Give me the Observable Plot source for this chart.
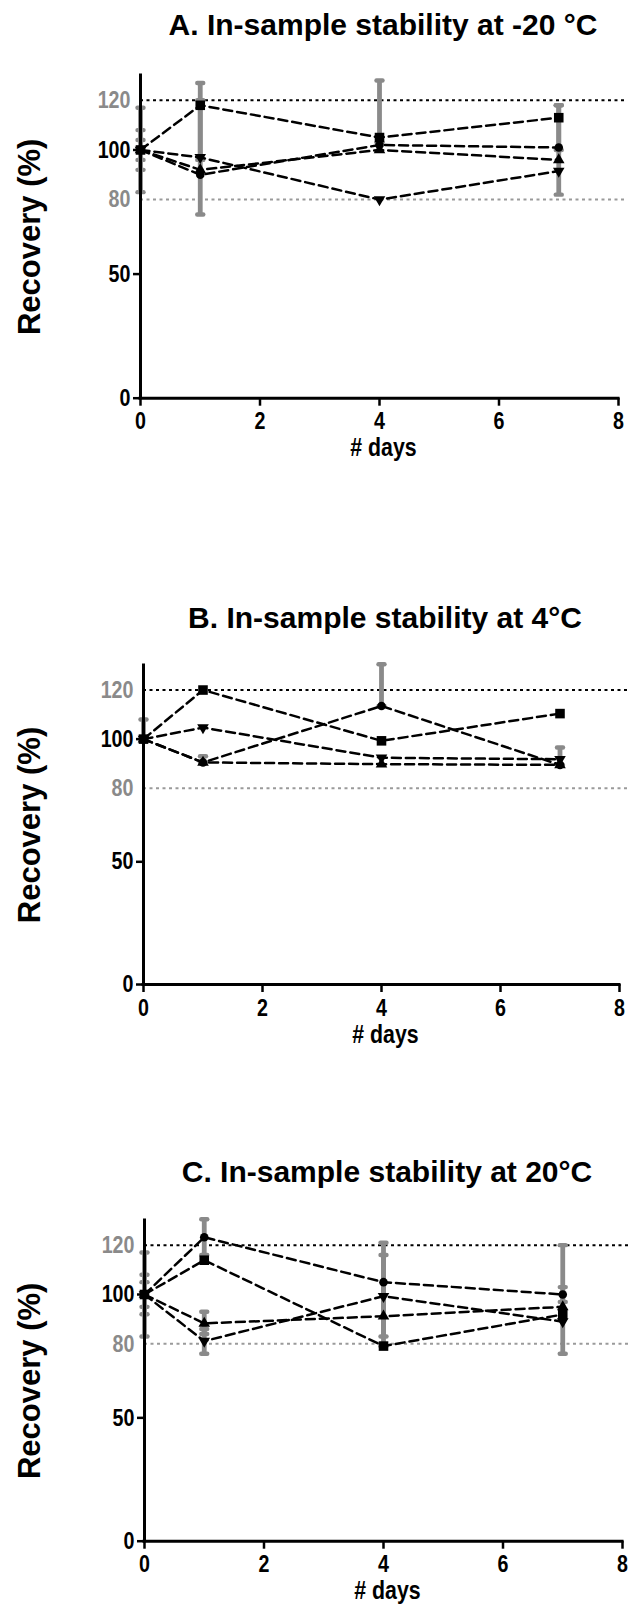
<!DOCTYPE html>
<html>
<head>
<meta charset="utf-8">
<script src="https://cdn.jsdelivr.net/npm/d3@7"></script>
<script src="https://cdn.jsdelivr.net/npm/@observablehq/plot@0.6"></script>
<style>
  body { margin: 0; background: #fff; }
  #root { position: relative; width: 635px; height: 1615px; overflow: hidden; }
  .panel { position: absolute; left: 0; width: 635px; }
  .panel svg { position: absolute; left: 0; top: 0; overflow: visible; }
  .title { position: absolute; text-align: center; white-space: nowrap;
           font-family: "Liberation Sans", Arial, sans-serif; font-weight: bold;
           font-size: 30px; line-height: 30px; color: #000; }
</style>
</head>
<body>
<div id="root"></div>
<script>
// ---------- data ----------
const days = [0, 1, 4, 7];
const xTicks = [0, 2, 4, 6, 8];
const yTicksBlack = [0, 50, 100];
const yTicksGray = [80, 120];
const xDomain = [0, 8];
const yDomain = [0, 130];
const limitUpper = [120];
const limitLower = [80];
const yLabel = "Recovery (%)";
const xLabel = "# days";
const titles = [
  "A. In-sample stability at -20 °C",
  "B. In-sample stability at 4°C",
  "C. In-sample stability at 20°C"
];

// Panel A (-20 °C)
const aCircle       = [100, 90, 102, 101];
const aSquare       = [100, 118, 105, 113];
const aTriangle     = [100, 92, 100, 96];
const aTriangleDown = [100, 97, 80, 91.5];
const aErrDay  = [0, 0, 0, 1, 1, 4, 7, 7];
const aErrLow  = [83, 92, 96, 74, 96, 103, 82, 100];
const aErrHigh = [117, 108, 104, 127, 120, 128, 118, 118];

// Panel B (4 °C)
const bCircle       = [100, 90.5, 113.5, 89.5];
const bSquare       = [100, 120, 99.3, 110.4];
const bTriangle     = [100, 90.5, 89.8, 89.5];
const bTriangleDown = [100, 104.7, 92.4, 91.8];
const bErrDay  = [0, 1, 4, 7];
const bErrLow  = [100, 90.5, 113.5, 89.5];
const bErrHigh = [108, 93, 130.5, 96.6];

// Panel C (20 °C)
const cCircle       = [100, 123.2, 105, 100];
const cSquare       = [100, 113.9, 79.1, 91.9];
const cTriangle     = [100, 88.3, 91.2, 95];
const cTriangleDown = [100, 81.1, 99.3, 89];
const cErrDay  = [0, 0, 0, 1, 1, 1, 4, 4, 7, 7];
const cErrLow  = [83, 92, 95, 116, 84, 76, 79, 83, 76, 97];
const cErrHigh = [117, 108, 105, 130.5, 93, 86, 121, 116, 120, 103];

// ---------- symbols ----------
const sqrt3 = Math.sqrt(3);
const triangleDown = {
  draw(ctx, size) {
    const y = -Math.sqrt(size / (sqrt3 * 3));
    ctx.moveTo(0, -y * 2);
    ctx.lineTo(-sqrt3 * y, y);
    ctx.lineTo(sqrt3 * y, y);
    ctx.closePath();
  }
};
const capSymbol = {
  draw(ctx) {
    ctx.moveTo(-3, -2.2);
    ctx.lineTo(3, -2.2);
    ctx.arc(3, 0, 2.2, -Math.PI / 2, Math.PI / 2);
    ctx.lineTo(-3, 2.2);
    ctx.arc(-3, 0, 2.2, Math.PI / 2, Math.PI * 1.5);
    ctx.closePath();
  }
};
const shapes = [
  {key: "circle", symbol: "circle", r: 4.3},
  {key: "square", symbol: "square", r: 5.4},
  {key: "triangle", symbol: "triangle", r: 4.3},
  {key: "triangleDown", symbol: triangleDown, r: 4.3}
];

const panelsData = [
  {circle: aCircle, square: aSquare, triangle: aTriangle, triangleDown: aTriangleDown,
   errDay: aErrDay, errLow: aErrLow, errHigh: aErrHigh},
  {circle: bCircle, square: bSquare, triangle: bTriangle, triangleDown: bTriangleDown,
   errDay: bErrDay, errLow: bErrLow, errHigh: bErrHigh},
  {circle: cCircle, square: cSquare, triangle: cTriangle, triangleDown: cTriangleDown,
   errDay: cErrDay, errLow: cErrLow, errHigh: cErrHigh}
];

// ---------- layout ----------
const layout = [
  {top: 0,    xRange: [140, 618], y0: 397.7, titleTop: 10},
  {top: 590,  xRange: [143, 619], y0: 984,   titleTop: 13},
  {top: 1145, xRange: [144, 622], y0: 1540.7, titleTop: 12}
];
const H = 470, MT = 75;
const gray = "#8a8a8a";
const NARROW = 0.82; // emulate a narrow bold face

function narrowText(t) {
  const tr = t.getAttribute("transform");
  if (tr) {
    t.setAttribute("transform", tr + ` scale(${NARROW},1)`);
  } else {
    const x = parseFloat(t.getAttribute("x")) || 0;
    t.setAttribute("transform", `translate(${x},0) scale(${NARROW},1)`);
    t.setAttribute("x", 0);
  }
}

const root = document.getElementById("root");

panelsData.forEach((pd, i) => {
  const L = layout[i];
  const rows = [];
  shapes.forEach(s => days.forEach((d, j) => rows.push({day: d, value: pd[s.key][j], shape: s.key})));
  const errs = pd.errDay.map((d, j) => ({day: d, lo: pd.errLow[j], hi: pd.errHigh[j]}));
  const caps = errs.flatMap(e => [{day: e.day, v: e.lo}, {day: e.day, v: e.hi}]);

  const frameRight = Math.min(L.xRange[1] + 8, 634);
  const chart = Plot.plot({
    width: 635,
    height: H,
    marginTop: MT,
    marginBottom: H - (L.y0 - L.top),
    marginLeft: L.xRange[0],
    marginRight: 635 - frameRight,
    x: {domain: xDomain, range: L.xRange},
    y: {domain: yDomain},
    style: {fontFamily: "'Liberation Sans', Arial, sans-serif", fontWeight: "bold",
            fontSize: "22px", color: "#000", background: "transparent", overflow: "visible"},
    marks: [
      Plot.ruleY(limitUpper, {stroke: "#000", strokeWidth: 2, strokeDasharray: "3,3.5"}),
      Plot.ruleY(limitLower, {stroke: "#9a9a9a", strokeWidth: 2, strokeDasharray: "3,3.5"}),
      Plot.ruleX(errs, {x: "day", y1: "lo", y2: "hi", stroke: gray, strokeWidth: 4.8}),
      Plot.dot(caps, {x: "day", y: "v", symbol: capSymbol, fill: gray, stroke: "none"}),
      Plot.line(rows, {x: "day", y: "value", z: "shape", stroke: "#000", strokeWidth: 2.5,
                       strokeDasharray: "9,5"}),
      ...shapes.map(s => Plot.dot(rows.filter(r => r.shape === s.key),
        {x: "day", y: "value", symbol: s.symbol, r: s.r, fill: "#000", stroke: "none"})),
      Plot.ruleX([xDomain[0]], {stroke: "#000", strokeWidth: 3, strokeLinecap: "square"}),
      Plot.ruleY([yDomain[0]], {x1: xDomain[0], x2: xDomain[1], stroke: "#000", strokeWidth: 3,
                                strokeLinecap: "square"}),
      Plot.axisX(xTicks, {tickSize: 8, tickPadding: 6, strokeWidth: 2.5, fontSize: 24, label: null}),
      Plot.axisY(yTicksBlack, {tickSize: 7, tickPadding: 3, strokeWidth: 2.5, fontSize: 24, label: null}),
      Plot.axisY(yTicksGray, {tickSize: 0, tickPadding: 10, color: gray, fontSize: 24, label: null}),
      Plot.text([yLabel], {frameAnchor: "left", dx: 30 - L.xRange[0], rotate: -90,
                           fontSize: 31, fontWeight: "bold", textAnchor: "middle"}),
      Plot.text([xLabel], {frameAnchor: "bottom", dy: 58, fontSize: 26, fontWeight: "bold"})
    ]
  });

  // narrow face for tick labels and the x-axis title
  chart.querySelectorAll('g[aria-label$="tick label"] text').forEach(narrowText);
  chart.querySelectorAll('g[aria-label="text"] text').forEach(t => {
    if (t.textContent === xLabel) narrowText(t);
  });

  const panel = document.createElement("div");
  panel.className = "panel";
  panel.style.top = L.top + "px";
  panel.style.height = H + "px";
  panel.appendChild(chart);

  const t = document.createElement("div");
  t.className = "title";
  t.textContent = titles[i];
  t.style.left = (L.xRange[0] + 4) + "px";
  t.style.width = (L.xRange[1] - L.xRange[0]) + "px";
  t.style.top = L.titleTop + "px";
  panel.appendChild(t);

  root.appendChild(panel);
});
</script>
</body>
</html>
